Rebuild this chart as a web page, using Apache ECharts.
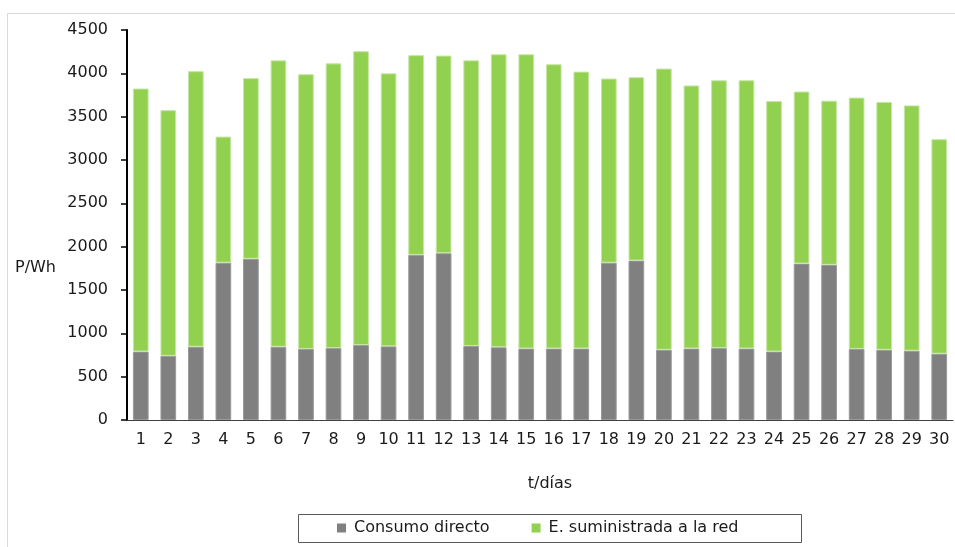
<!DOCTYPE html>
<html>
<head>
<meta charset="utf-8">
<script src="https://cdn.jsdelivr.net/npm/echarts@6/dist/echarts.min.js"></script>
<style>
html,body{margin:0;padding:0;background:#fff;}
#chart{width:955px;height:547px;}
</style>
</head>
<body>
<div id="chart"></div>
<script>
const days = ['1','2','3','4','5','6','7','8','9','10','11','12','13','14','15','16','17','18','19','20','21','22','23','24','25','26','27','28','29','30'];
const totalEnergy = [3825,3575,4025,3270,3945,4150,3990,4115,4255,4000,4210,4205,4150,4220,4220,4105,4020,3940,3955,4055,3860,3920,3920,3680,3790,3685,3720,3670,3630,3240];
const consumoDirecto = [790,740,845,1815,1860,845,820,830,865,850,1905,1925,855,840,825,825,825,1815,1840,810,825,830,825,790,1805,1790,820,810,800,765];
const suministradaRed = totalEnergy.map((t, i) => t - consumoDirecto[i]);
const yTicks = {min: 0, max: 4500, interval: 500};
const seriesNames = ['Consumo directo', 'E. suministrada a la red'];

const FONT = 'DejaVu Sans';
const TXT = '#1a1a1a';
const chart = echarts.init(document.getElementById('chart'));
chart.setOption({
  animation: false,
  textStyle: {fontFamily: FONT},
  grid: {left: 127, right: 2, top: 30, bottom: 127, containLabel: false},
  graphic: [
    {type: 'rect', silent: true, shape: {x: 7.5, y: 13.5, width: 960, height: 545},
     style: {fill: 'none', stroke: '#d9d9d9', lineWidth: 1}},
    {type: 'rect', silent: true, shape: {x: 298.5, y: 514.5, width: 503, height: 28},
     style: {fill: 'none', stroke: '#595959', lineWidth: 1}},
    {type: 'text', left: 15, top: 260,
     style: {text: 'P/Wh', fontFamily: FONT, fontSize: 16, fill: TXT}}
  ],
  legend: {
    data: seriesNames,
    left: 337, top: 520,
    padding: 0,
    itemWidth: 9, itemHeight: 9, itemGap: 42,
    icon: 'rect',
    itemStyle: {borderWidth: 0},
    textStyle: {fontFamily: FONT, fontSize: 16, color: TXT, padding: [0, 0, 0, 3]}
  },
  xAxis: {
    type: 'category',
    data: days,
    name: 't/días',
    nameLocation: 'middle',
    nameGap: 56,
    nameTextStyle: {fontFamily: FONT, fontSize: 16, color: TXT, padding: [0, 0, 0, 20]},
    axisLine: {lineStyle: {color: '#404040', width: 1}},
    axisTick: {alignWithLabel: true, length: 5, lineStyle: {color: '#404040'}},
    axisLabel: {fontFamily: FONT, fontSize: 16, color: TXT, margin: 12, interval: 0}
  },
  yAxis: {
    type: 'value',
    min: yTicks.min, max: yTicks.max, interval: yTicks.interval,
    axisLine: {show: true, lineStyle: {color: '#000', width: 2}},
    axisTick: {show: true, length: 6, lineStyle: {color: '#000', width: 1.5}},
    splitLine: {show: false},
    axisLabel: {fontFamily: FONT, fontSize: 16, color: TXT, margin: 19, formatter: v => String(v)}
  },
  series: [
    {
      name: seriesNames[0], type: 'bar', stack: 'total',
      data: consumoDirecto,
      barCategoryGap: '43%',
      itemStyle: {color: '#808080', borderColor: '#9a9a9a', borderWidth: 1}
    },
    {
      name: seriesNames[1], type: 'bar', stack: 'total',
      data: suministradaRed,
      barCategoryGap: '43%',
      itemStyle: {color: '#92d050', borderColor: '#c6e6a6', borderWidth: 1}
    }
  ]
});
</script>
</body>
</html>
